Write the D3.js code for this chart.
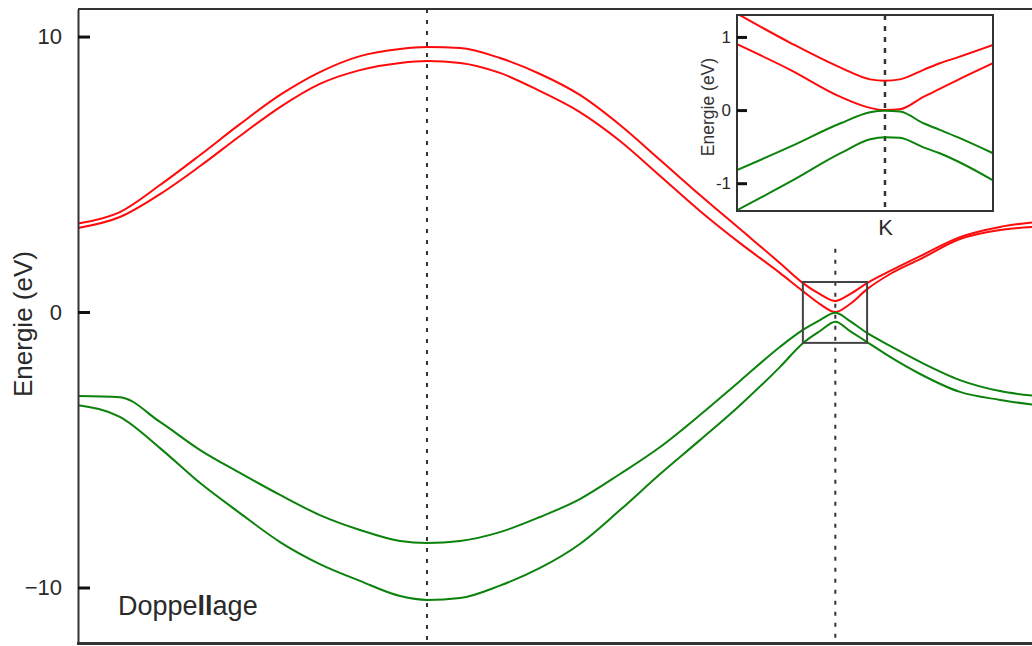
<!DOCTYPE html>
<html>
<head>
<meta charset="utf-8">
<script src="https://cdn.jsdelivr.net/npm/d3@7"></script>
<style>
  html, body { margin: 0; padding: 0; background: #fff; overflow: hidden; }
  text { font-family: "Liberation Sans", Arial, Helvetica, sans-serif; }
</style>
</head>
<body>
<svg id="chart" width="1032" height="646"></svg>
<script>
// Band structure of bilayer graphene along M – Γ – K – M (path coordinate, Γ = 1)
const kPath = [0, 0.120, 0.235, 0.350, 0.464, 0.579, 0.693, 0.808, 0.923, 1.000,
               1.095, 1.209, 1.324, 1.438, 1.553, 1.668, 1.782, 1.897, 2.011, 2.077,
               2.126, 2.170, 2.212, 2.261, 2.327, 2.413, 2.527, 2.642, 2.745];

// Energies in eV
const conductionUpper = [3.21, 3.63, 4.61, 5.70, 6.82, 7.88, 8.71, 9.29, 9.55, 9.62,
                         9.58, 9.22, 8.64, 7.88, 6.79, 5.52, 4.25, 3.01, 1.78, 1.05,
                         0.65, 0.40, 0.65, 1.05, 1.49, 2.03, 2.72, 3.09, 3.27];
const conductionLower = [3.05, 3.45, 4.28, 5.30, 6.39, 7.44, 8.28, 8.78, 9.04, 9.11,
                         9.04, 8.68, 8.02, 7.26, 6.21, 4.94, 3.67, 2.50, 1.42, 0.76,
                         0.29, 0.00, 0.29, 0.83, 1.38, 1.92, 2.65, 2.98, 3.09];
const valenceUpper    = [-3.05, -3.09, -3.99, -5.01, -5.84, -6.64, -7.37, -7.91, -8.31, -8.38,
                         -8.31, -7.99, -7.44, -6.79, -5.88, -4.90, -3.74, -2.50, -1.27, -0.65,
                         -0.29, -0.03, -0.33, -0.76, -1.23, -1.81, -2.47, -2.87, -3.05];
const valenceLower    = [-3.38, -3.81, -4.94, -6.21, -7.30, -8.35, -9.15, -9.76, -10.31, -10.45,
                         -10.38, -9.93, -9.29, -8.42, -7.19, -5.88, -4.65, -3.38, -2.00, -1.13,
                         -0.69, -0.35, -0.69, -1.09, -1.63, -2.25, -2.90, -3.19, -3.38];

const yTicks = [-10, 0, 10];
const gammaK = 1.0;
const kPointK = 2.17;
const kLineTop = 2.3;          // K marker starts below the inset
const zoomBoxK = [2.077, 2.261];
const zoomBoxE = [-1.12, 1.09];
const caption = ["Doppe", "ll", "age"];

// Close-up around K (offset from K, arbitrary units)
const qInset = [-1.0, -0.64, -0.30, -0.10, 0, 0.10, 0.26, 0.37, 0.49, 0.73];
const insetCUpper = [1.32, 0.92, 0.58, 0.42, 0.40, 0.42, 0.55, 0.64, 0.72, 0.89];
const insetCLower = [0.90, 0.55, 0.18, 0.03, 0.00, 0.01, 0.18, 0.29, 0.41, 0.64];
const insetVUpper = [-0.82, -0.50, -0.18, -0.03, -0.01, -0.02, -0.18, -0.27, -0.37, -0.59];
const insetVLower = [-1.37, -0.98, -0.59, -0.40, -0.37, -0.38, -0.51, -0.59, -0.70, -0.96];
const insetTicks = [-1, 0, 1];

const RED = "#ff0a0a";
const GREEN = "#0b820b";
const FRAME = "#333";

const svg = d3.select("#chart");

// ---------- main panel ----------
const x = d3.scaleLinear().domain([0, 2.745]).range([78, 1036]);
const y = d3.scaleLinear().domain([-12, 11]).range([642.6, 9]);

const line = d3.line()
  .x(d => x(d[0]))
  .y(d => y(d[1]))
  .curve(d3.curveMonotoneX);

const bands = [
  {v: conductionUpper, c: RED},
  {v: conductionLower, c: RED},
  {v: valenceUpper, c: GREEN},
  {v: valenceLower, c: GREEN}
];

// symmetry-point markers
svg.append("line")
  .attr("x1", x(gammaK)).attr("x2", x(gammaK))
  .attr("y1", y(11)).attr("y2", y(-12))
  .attr("stroke", FRAME).attr("stroke-width", 2)
  .attr("stroke-dasharray", "4,7");
svg.append("line")
  .attr("x1", x(kPointK)).attr("x2", x(kPointK))
  .attr("y1", y(kLineTop)).attr("y2", y(-12))
  .attr("stroke", FRAME).attr("stroke-width", 2)
  .attr("stroke-dasharray", "4,7");

svg.append("g").selectAll("path")
  .data(bands)
  .join("path")
  .attr("d", b => line(kPath.map((k, i) => [k, b.v[i]])))
  .attr("fill", "none")
  .attr("stroke", b => b.c)
  .attr("stroke-width", 2);

// zoom box around K
svg.append("rect")
  .attr("x", x(zoomBoxK[0])).attr("y", y(zoomBoxE[1]))
  .attr("width", x(zoomBoxK[1]) - x(zoomBoxK[0]))
  .attr("height", y(zoomBoxE[0]) - y(zoomBoxE[1]))
  .attr("fill", "none").attr("stroke", "#444").attr("stroke-width", 2);

// frame: top and bottom rules
svg.append("line")
  .attr("x1", x(0)).attr("x2", 1032)
  .attr("y1", y(11)).attr("y2", y(11))
  .attr("stroke", FRAME).attr("stroke-width", 2);
svg.append("line")
  .attr("x1", x(0) - 1).attr("x2", 1032)
  .attr("y1", y(-12) + 1).attr("y2", y(-12) + 1)
  .attr("stroke", FRAME).attr("stroke-width", 3);

// left axis with inward ticks
const yAxis = d3.axisLeft(y)
  .tickValues(yTicks)
  .tickSizeInner(-12)
  .tickSizeOuter(0)
  .tickPadding(16);
const gy = svg.append("g").attr("transform", `translate(${x(0)},0)`).call(yAxis);
gy.select(".domain").attr("stroke", FRAME).attr("stroke-width", 2);
gy.selectAll(".tick line").attr("stroke", "#111").attr("stroke-width", 3);
gy.selectAll(".tick text")
  .attr("font-size", 22).attr("fill", "#2a2a2a")
  .attr("font-family", "'Liberation Sans', Arial, sans-serif");

svg.append("text")
  .attr("transform", `translate(32,${y(0) + 12}) rotate(-90)`)
  .attr("text-anchor", "middle")
  .attr("font-size", 26).attr("fill", "#2a2a2a")
  .text("Energie (eV)");

const cap = svg.append("text")
  .attr("x", 118).attr("y", 615)
  .attr("font-size", 27).attr("fill", "#2a2a2a");
cap.selectAll("tspan").data(caption).join("tspan")
  .attr("font-weight", (d, i) => i === 1 ? "bold" : "normal")
  .text(d => d);

// ---------- inset: close-up at K ----------
const xi = d3.scaleLinear().domain([-1, 0.73]).range([737, 993]);
const yi = d3.scaleLinear().domain([-1.38, 1.30]).range([211, 15]);

svg.append("rect")
  .attr("x", 737).attr("y", 15).attr("width", 256).attr("height", 196)
  .attr("fill", "#fff");

svg.append("defs").append("clipPath").attr("id", "insetClip")
  .append("rect").attr("x", xi(-1)).attr("y", yi(1.30))
  .attr("width", xi(0.73) - xi(-1)).attr("height", yi(-1.38) - yi(1.30));

const lineI = d3.line()
  .x(d => xi(d[0]))
  .y(d => yi(d[1]))
  .curve(d3.curveMonotoneX);

const insetBands = [
  {v: insetCUpper, c: RED},
  {v: insetCLower, c: RED},
  {v: insetVUpper, c: GREEN},
  {v: insetVLower, c: GREEN}
];

svg.append("line")
  .attr("x1", xi(0)).attr("x2", xi(0))
  .attr("y1", yi(1.30)).attr("y2", yi(-1.38))
  .attr("stroke", FRAME).attr("stroke-width", 2.5)
  .attr("stroke-dasharray", "5,6");

svg.append("g").attr("clip-path", "url(#insetClip)")
  .selectAll("path").data(insetBands).join("path")
  .attr("d", b => lineI(qInset.map((q, i) => [q, b.v[i]])))
  .attr("fill", "none")
  .attr("stroke", b => b.c)
  .attr("stroke-width", 2);

svg.append("rect")
  .attr("x", xi(-1)).attr("y", yi(1.30))
  .attr("width", xi(0.73) - xi(-1)).attr("height", yi(-1.38) - yi(1.30))
  .attr("fill", "none").attr("stroke", FRAME).attr("stroke-width", 2);

const yAxisI = d3.axisLeft(yi)
  .tickValues(insetTicks)
  .tickSizeInner(-10)
  .tickSizeOuter(0)
  .tickPadding(6)
  .tickFormat(d => d < 0 ? "-" + Math.abs(d) : String(d));
const gyi = svg.append("g").attr("transform", `translate(${xi(-1)},0)`).call(yAxisI);
gyi.select(".domain").remove();
gyi.selectAll(".tick line").attr("stroke", "#111").attr("stroke-width", 3);
gyi.selectAll(".tick text")
  .attr("font-size", 17).attr("fill", "#2a2a2a")
  .attr("font-family", "'Liberation Sans', Arial, sans-serif");

const xAxisI = d3.axisBottom(xi)
  .tickValues([0])
  .tickSize(0)
  .tickPadding(8)
  .tickFormat(() => "K");
const gxi = svg.append("g").attr("transform", `translate(0,${yi(-1.38)})`).call(xAxisI);
gxi.select(".domain").remove();
gxi.selectAll(".tick text")
  .attr("font-size", 22).attr("fill", "#2a2a2a")
  .attr("font-family", "'Liberation Sans', Arial, sans-serif");

svg.append("text")
  .attr("transform", `translate(714,107) rotate(-90)`)
  .attr("text-anchor", "middle")
  .attr("font-size", 17.5).attr("fill", "#333")
  .text("Energie (eV)");
</script>
</body>
</html>
